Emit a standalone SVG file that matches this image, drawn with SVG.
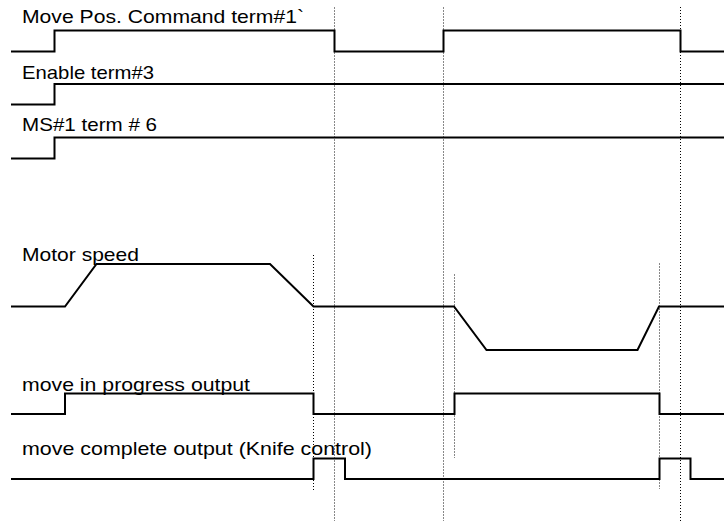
<svg xmlns="http://www.w3.org/2000/svg" width="728" height="523" viewBox="0 0 728 523">
<style>
.lbl{font-family:"Liberation Sans",Arial,sans-serif;font-size:19px;fill:#000}
.wave{fill:none;stroke:#000;stroke-width:2;stroke-linejoin:miter}
.gl{fill:none;stroke:#888;stroke-width:1;stroke-dasharray:2 1}
.bl{fill:none;stroke:#000;stroke-width:1;stroke-dasharray:1 2}
</style>
<rect width="728" height="523" fill="#fff"/>
<g id="guides">
<line class="gl" x1="334.5" y1="7" x2="334.5" y2="521"/>
<line class="gl" x1="443.5" y1="7" x2="443.5" y2="521"/>
<line class="bl" x1="680.5" y1="7" x2="680.5" y2="521"/>
<line class="bl" x1="313.5" y1="255" x2="313.5" y2="492"/>
<line class="gl" x1="454.5" y1="274" x2="454.5" y2="458"/>
<line class="gl" x1="659.5" y1="263" x2="659.5" y2="489"/>
</g>
<g id="move-pos-command">
<text class="lbl" x="22" y="23" textLength="282" lengthAdjust="spacingAndGlyphs">Move Pos. Command term#1`</text>
<polyline class="wave" points="11,51.5 54.5,51.5 54.5,30.5 334.5,30.5 334.5,51.5 443.5,51.5 443.5,30.5 680.5,30.5 680.5,51.5 724,51.5"/>
</g>
<g id="enable">
<text class="lbl" x="22" y="79" textLength="132" lengthAdjust="spacingAndGlyphs">Enable term#3</text>
<polyline class="wave" points="11,104.5 54.5,104.5 54.5,84 724,84"/>
</g>
<g id="ms1">
<text class="lbl" x="22" y="131" textLength="135" lengthAdjust="spacingAndGlyphs">MS#1 term # 6</text>
<polyline class="wave" points="11,158.5 54.5,158.5 54.5,137.5 724,137.5"/>
</g>
<g id="motor-speed">
<text class="lbl" x="22" y="261" textLength="117" lengthAdjust="spacingAndGlyphs">Motor speed</text>
<polyline class="wave" points="11,306.5 65,306.5 96.5,264 270,264 313.5,306.5 454,306.5 486.5,350 637.5,350 659,306.5 724,306.5"/>
</g>
<g id="move-in-progress">
<text class="lbl" x="22" y="391" textLength="228" lengthAdjust="spacingAndGlyphs">move in progress output</text>
<polyline class="wave" points="11,414 65,414 65,393.5 313.5,393.5 313.5,414 454.5,414 454.5,393.5 659.5,393.5 659.5,414 724,414"/>
</g>
<g id="move-complete">
<text class="lbl" x="22" y="455" textLength="350" lengthAdjust="spacingAndGlyphs">move complete output (Knife control)</text>
<polyline class="wave" points="11,479 313.5,479 313.5,458.5 345,458.5 345,479 659.5,479 659.5,458.5 690.5,458.5 690.5,479 724,479"/>
</g>
</svg>
